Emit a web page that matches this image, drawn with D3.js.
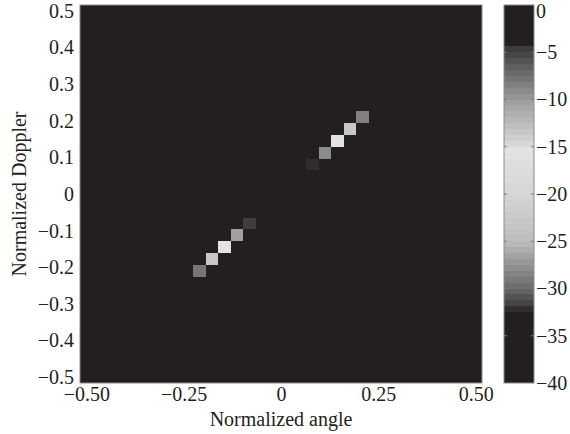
<!DOCTYPE html>
<html>
<head>
<meta charset="utf-8">
<script src="https://cdn.jsdelivr.net/npm/d3@7"></script>
<style>
  body { margin: 0; background: #fff; }
  text { font-family: "Liberation Serif", "DejaVu Serif", serif; fill: #231f20; }
</style>
</head>
<body>
<div id="chart"></div>
<script>
// grid: 32 x 32 cells, centres from -0.5 to 0.5
var nCells = 32;
var backgroundDb = -40;

// bright cells along the diagonal (column index, row index, level in dB)
var peakCol = [9, 10, 11, 12, 13, 18, 19, 20, 21, 22];
var peakRow = [9, 10, 11, 12, 13, 18, 19, 20, 21, 22];
var peakDb  = [-7.5, -13.5, -15.2, -10.2, -4.6, -32.3, -9.3, -15.1, -13.5, -8.4];

// colour map stops (dB -> grey)
var cmapDb     = [0, -4.3, -4.5, -10, -14.8, -15, -20, -25, -30, -32, -32.4, -40];
var cmapColors = ["#231f20", "#231f20", "#3a3a3a", "#9c9c9c", "#d8d8d8", "#e3e3e3",
                  "#d6d6d6", "#bdbdbd", "#6a6a6a", "#3a3a3a", "#231f20", "#231f20"];
var nBands = 64;

var xTicks = [-0.5, -0.25, 0, 0.25, 0.5];
var xTickLabels = ["\u22120.50", "\u22120.25", "0", "0.25", "0.50"];
var yTicks = [0.5, 0.4, 0.3, 0.2, 0.1, 0, -0.1, -0.2, -0.3, -0.4, -0.5];
var cbTicks = [0, -5, -10, -15, -20, -25, -30, -35, -40];

var width = 570, height = 434;
var plot = {left: 80, right: 482, top: 5, bottom: 383};
var cbar = {left: 504, right: 534};
var fontSize = "20px";

var half = 1 / (nCells - 1) / 2;
var x = d3.scaleLinear().domain([-0.5 - half, 0.5 + half]).range([plot.left, plot.right]);
var y = d3.scaleLinear().domain([-0.5 - half, 0.5 + half]).range([plot.bottom, plot.top]);

var cmap = d3.scaleLinear().domain(cmapDb).range(cmapColors).clamp(true);
var bandStep = 40 / nBands;
function bandIndex(v) {
	var i = Math.floor((0 - v) / bandStep);
	return Math.max(0, Math.min(nBands - 1, i));
}
function colorOf(v) {
	return cmap(-(bandIndex(v) + 0.5) * bandStep);
}

// build the grid
var cells = [];
d3.range(nCells).forEach(function(r) {
	d3.range(nCells).forEach(function(c) {
		cells.push({col: c, row: r, db: backgroundDb});
	});
});
peakCol.forEach(function(c, k) {
	cells[peakRow[k] * nCells + c].db = peakDb[k];
});
function centre(i) { return -0.5 + i / (nCells - 1); }

var svg = d3.select("#chart").append("svg")
	.attr("width", width).attr("height", height);

// background level fills the whole image, cells go on top
svg.append("rect")
	.attr("x", plot.left).attr("y", plot.top)
	.attr("width", plot.right - plot.left).attr("height", plot.bottom - plot.top)
	.attr("fill", colorOf(backgroundDb));

svg.append("g").attr("shape-rendering", "crispEdges").selectAll("rect")
	.data(cells.filter(function(d) { return d.db !== backgroundDb; }))
	.enter().append("rect")
	.attr("x", function(d) { return x(centre(d.col) - half); })
	.attr("y", function(d) { return y(centre(d.row) + half); })
	.attr("width", function(d) { return x(centre(d.col) + half) - x(centre(d.col) - half); })
	.attr("height", function(d) { return y(centre(d.row) - half) - y(centre(d.row) + half); })
	.attr("fill", function(d) { return colorOf(d.db); });

svg.append("rect")
	.attr("x", plot.left).attr("y", plot.top)
	.attr("width", plot.right - plot.left).attr("height", plot.bottom - plot.top)
	.attr("fill", "none").attr("stroke", "#8a8a8a").attr("stroke-width", 1);

var xAxis = svg.append("g")
	.attr("transform", "translate(0," + plot.bottom + ")")
	.call(d3.axisBottom(x).tickValues(xTicks).tickSize(0).tickPadding(4)
		.tickFormat(function(d, i) { return xTickLabels[i]; }));
xAxis.select(".domain").remove();
xAxis.selectAll("text").attr("font-size", fontSize).attr("font-family", null);

var yAxis = svg.append("g")
	.attr("transform", "translate(" + plot.left + ",0)")
	.call(d3.axisLeft(y).tickValues(yTicks).tickSize(0).tickPadding(6)
		.tickFormat(function(d) { return d === 0 ? "0" : d3.format(".1f")(d).replace("-", "\u2212"); }));
yAxis.select(".domain").remove();
yAxis.selectAll("text").attr("font-size", fontSize).attr("font-family", null);

svg.append("text")
	.attr("x", (plot.left + plot.right) / 2).attr("y", 426)
	.attr("text-anchor", "middle").attr("font-size", fontSize)
	.text("Normalized angle");

svg.append("text")
	.attr("transform", "translate(26," + (plot.top + plot.bottom) / 2 + ") rotate(-90)")
	.attr("text-anchor", "middle").attr("font-size", fontSize)
	.text("Normalized Doppler");

// colour bar
var cy = d3.scaleLinear().domain([-40, 0]).range([plot.bottom, plot.top]);
svg.append("g").attr("shape-rendering", "crispEdges").selectAll("rect")
	.data(d3.range(nBands))
	.enter().append("rect")
	.attr("x", cbar.left)
	.attr("y", function(i) { return cy(-i * bandStep); })
	.attr("width", cbar.right - cbar.left)
	.attr("height", function(i) { return cy(-(i + 1) * bandStep) - cy(-i * bandStep); })
	.attr("fill", function(i) { return cmap(-(i + 0.5) * bandStep); });

svg.append("rect")
	.attr("x", cbar.left).attr("y", plot.top)
	.attr("width", cbar.right - cbar.left).attr("height", plot.bottom - plot.top)
	.attr("fill", "none").attr("stroke", "#8a8a8a").attr("stroke-width", 1);

var cbTickG = svg.append("g").selectAll("g")
	.data(cbTicks.slice(1, -1))
	.enter().append("g");
cbTickG.append("line")
	.attr("x1", cbar.left).attr("x2", cbar.left + 3)
	.attr("y1", function(d) { return cy(d); }).attr("y2", function(d) { return cy(d); })
	.attr("stroke", "#7a7a7a");
cbTickG.append("line")
	.attr("x1", cbar.right - 3).attr("x2", cbar.right)
	.attr("y1", function(d) { return cy(d); }).attr("y2", function(d) { return cy(d); })
	.attr("stroke", "#7a7a7a");

var cbAxis = svg.append("g")
	.attr("transform", "translate(" + cbar.right + ",0)")
	.call(d3.axisRight(cy).tickValues(cbTicks).tickSize(0).tickPadding(2)
		.tickFormat(function(d) { return d === 0 ? "0" : "\u2212" + Math.abs(d); }));
cbAxis.select(".domain").remove();
cbAxis.selectAll("text").attr("font-size", fontSize).attr("font-family", null);
// keep the top label inside the page
cbAxis.selectAll("text").filter(function(d) { return d === 0; }).attr("dy", "0.6em");
</script>
</body>
</html>
